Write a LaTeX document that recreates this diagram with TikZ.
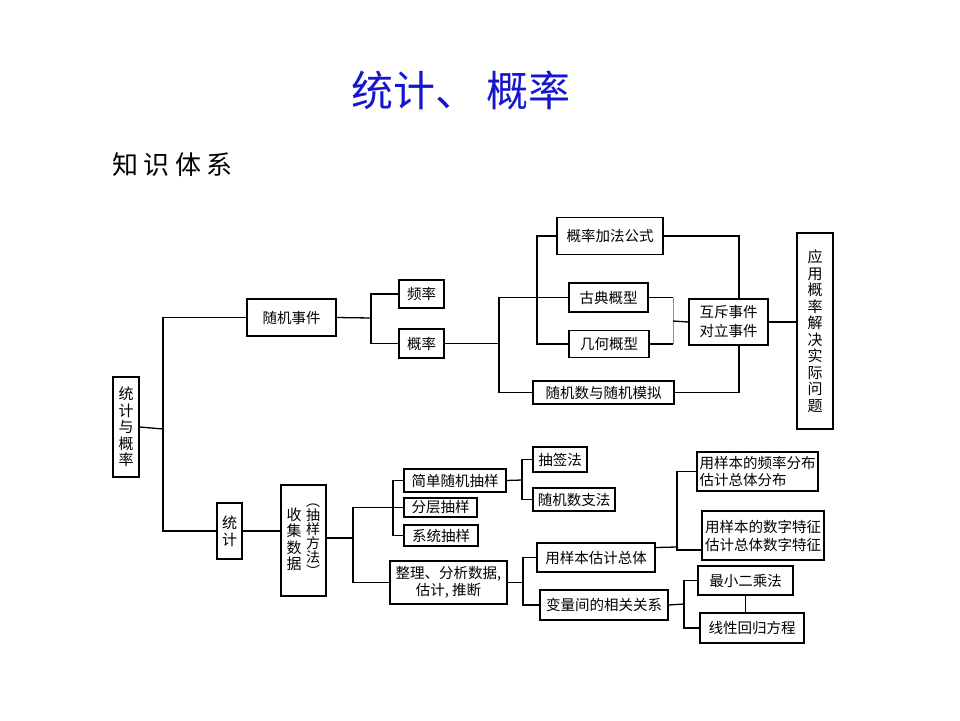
\documentclass[tikz,border=0pt]{standalone}
\usepackage{fontspec}
\setmainfont{Noto Sans CJK SC}
\definecolor{titleblue}{RGB}{22,22,205}
\begin{document}
\begin{tikzpicture}[x=1pt,y=-1pt,
  bx/.style={draw=black,line width=1.3pt,inner sep=0pt,align=center,
    font=\fontsize{14.5}{17}\selectfont},
  vbx/.style={bx,font=\fontsize{15}{16.5}\selectfont},
  ln/.style={line width=1.3pt,draw=black},
  gln/.style={line width=1pt,draw=black!45}]
\useasboundingbox (0,0) rectangle (960,720);
\node[font=\fontsize{42}{46}\selectfont,text=titleblue] (title) at (461,90) {统计、 概率};
\node[font=\fontsize{26}{30}\selectfont,anchor=west,inner sep=0pt] (sub) at (112,165) {知\hspace{5.5pt}识\hspace{5.5pt}体\hspace{5.5pt}系};
% top part
\node[vbx,minimum width=26,minimum height=100] (root) at (126,427) {统\\计\\与\\概\\率};
\node[bx,minimum width=89,minimum height=37] (sjsj) at (291.5,317.5) {随机事件};
\node[bx,minimum width=45,minimum height=28] (pl) at (421.5,294) {频率};
\node[bx,minimum width=45,minimum height=29] (gl) at (421.5,343.5) {概率};
\node[bx,minimum width=106,minimum height=37] (jf) at (610,236) {概率加法公式};
\node[bx,minimum width=79,minimum height=29] (gd) at (608.5,297.5) {古典概型};
\node[bx,minimum width=80,minimum height=27] (jh) at (609,344) {几何概型};
\node[bx,minimum width=141,minimum height=23] (sjs) at (603.5,392.5) {随机数与随机模拟};
\node[bx,minimum width=79,minimum height=46,font=\fontsize{14.5}{19}\selectfont] (hc) at (728.5,322) {互斥事件\\对立事件};
\node[vbx,minimum width=36,minimum height=196] (yy) at (815,331) {应\\用\\概\\率\\解\\决\\实\\际\\问\\题};
% bottom part
\node[vbx,minimum width=25,minimum height=56,font=\fontsize{15}{17}\selectfont] (tj) at (229.5,531) {统\\计};
\node[bx,minimum width=45,minimum height=111] (sj) at (303.5,540.5) {};
\node[font=\fontsize{15}{16.5}\selectfont,align=center,inner sep=0pt] (sjl) at (294,539.5) {收\\集\\数\\据};
\node[font=\fontsize{14}{14}\selectfont,align=center,inner sep=0pt] (sjr) at (313,540) {︵\\抽\\样\\方\\法\\︶};
\node[bx,minimum width=102,minimum height=23] (jd) at (455,480.5) {简单随机抽样};
\node[bx,minimum width=73,minimum height=19] (fc) at (440.5,507.5) {分层抽样};
\node[bx,minimum width=74,minimum height=21] (xt) at (441,535.5) {系统抽样};
\node[bx,minimum width=117,minimum height=43,font=\fontsize{14.5}{17.5}\selectfont] (zl) at (448.5,582.5) {整理、分析数据,\\估计, 推断};
\node[bx,minimum width=54,minimum height=25] (cq) at (560,459.5) {抽签法};
\node[bx,minimum width=82,minimum height=23] (sjz) at (574,499.5) {随机数支法};
\node[bx,minimum width=118,minimum height=29] (yb) at (596,557.5) {用样本估计总体};
\node[bx,minimum width=128,minimum height=30] (bl) at (604,605) {变量间的相关关系};
\node[bx,minimum width=121,minimum height=39,align=left,font=\fontsize{14.5}{17}\selectfont] (pf) at (757.5,471.5) {用样本的频率分布\\估计总体分布\hspace{29pt}};
\node[bx,minimum width=122,minimum height=49,font=\fontsize{14.5}{18}\selectfont] (sz) at (763,535.5) {用样本的数字特征\\估计总体数字特征};
\node[bx,minimum width=95,minimum height=29] (zx) at (745.5,580.5) {最小二乘法};
\node[bx,minimum width=104,minimum height=30] (xx) at (752,628) {线性回归方程};
% junctions
\coordinate (a1) at (163,429);
\coordinate (a2) at (371,318);
\coordinate (a3) at (499,343.5);
\coordinate (a4) at (537,290);
\coordinate (a5) at (673,321);
\coordinate (b1) at (353,538);
\coordinate (b2) at (393,505);
\coordinate (b3) at (522,480);
\coordinate (b4) at (523,582.5);
\coordinate (b5) at (677,547);
\coordinate (b6) at (684,604);
% connectors top
\draw[ln] (root.east) -- (a1);
\draw[ln] (sjsj.west) -| (a1) |- (tj.west);
\draw[ln] (sjsj.east) -- (a2);
\draw[ln] (pl.west) -| (a2) |- (gl.west);
\draw[ln] (gl.east) -- (a3);
\draw[ln] (gd.west) -| (a3) |- (sjs.west);
\draw[ln] (jf.west) -| (a4) |- (jh.west);
\draw[ln] (jf.east) -| ([xshift=10.5pt]hc.north);
\draw[ln] (gd.east) -- (gd.east -| a5);
\draw[ln] (jh.east) -- (jh.east -| a5);
\draw[gln] (gd.east -| a5) -- (jh.east -| a5);
\draw[ln] (a5) -- (hc.west);
\draw[ln] ([xshift=10.5pt]hc.south) |- (sjs.east);
\draw[ln] (hc.east) -- (hc.east -| yy.west);
% connectors bottom
\draw[ln] (tj.east) -- (tj.east -| sj.west);
\draw[ln] (sj.east |- b1) -- (b1);
\draw[ln] (fc.west) -| (b1) |- (zl.west);
\draw[ln] (jd.west) -| (b2) |- (xt.west);
\draw[ln] (jd.east) -- (b3);
\draw[ln] (cq.west) -| (b3) |- (sjz.west);
\draw[ln] (zl.east) -- (b4);
\draw[ln] (yb.west) -| (b4) |- (bl.west);
\draw[ln] ([yshift=10pt]yb.east) -- (b5);
\draw[ln] (pf.west) -| (b5) |- ([yshift=-14.5pt]sz.west);
\draw[ln] (bl.east) -- (b6);
\draw[ln] (zx.west) -| (b6) |- (xx.west);
\draw[ln] (zx.south) -- (zx.south |- xx.north);
\end{tikzpicture}
\end{document}
